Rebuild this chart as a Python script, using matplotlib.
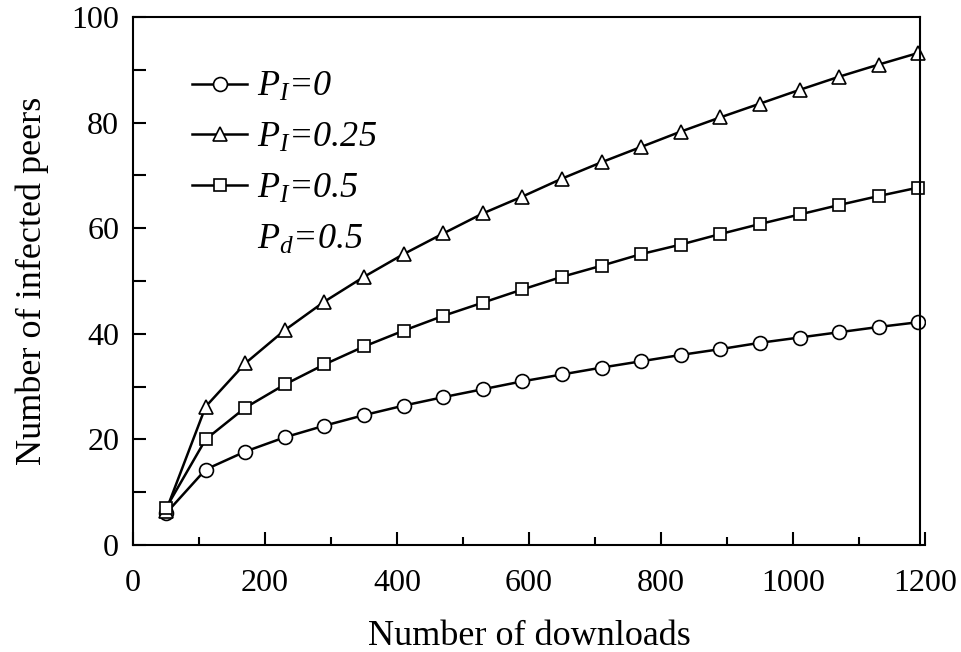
import matplotlib
matplotlib.use("Agg")
from matplotlib import pyplot as plt
from matplotlib.lines import Line2D
from matplotlib.ticker import MultipleLocator

plt.rcParams['font.family'] = ['Liberation Serif', 'DejaVu Serif']
plt.rcParams['mathtext.fontset'] = 'custom'
plt.rcParams['mathtext.it'] = 'Liberation Serif:italic'
plt.rcParams['mathtext.rm'] = 'Liberation Serif'

# datos
descargas = [50, 110, 170, 230, 290, 350, 410, 470, 530, 590,
             650, 710, 770, 830, 890, 950, 1010, 1070, 1130, 1190]
pi_0 = [6.0, 14.3, 17.7, 20.4, 22.6, 24.6, 26.4, 28.0, 29.5, 31.0,
        32.3, 33.6, 34.8, 36.0, 37.1, 38.3, 39.3, 40.3, 41.3, 42.2]
pi_025 = [6.5, 26.2, 34.4, 40.7, 46.1, 50.8, 55.1, 59.0, 62.8, 66.0,
          69.4, 72.5, 75.4, 78.3, 81.0, 83.6, 86.2, 88.7, 91.0, 93.2]
pi_05 = [7.0, 20.0, 26.0, 30.4, 34.2, 37.6, 40.6, 43.4, 45.9, 48.4,
         50.8, 52.9, 55.1, 56.9, 58.9, 60.8, 62.6, 64.4, 66.1, 67.7]

etiquetas = [r'$P_I$=0', r'$P_I$=0.25', r'$P_I$=0.5']
extra = r'$P_d$=0.5'

fig = plt.figure(figsize=(9.62, 6.52), dpi=100)
ax = fig.add_axes([0.1383, 0.1641, 0.8232, 0.8098])

estilo = dict(color='black', lw=1.8, mfc='white', mec='black', mew=1.2)
ax.plot(descargas, pi_0, marker='o', ms=10, label=etiquetas[0], **estilo)
ax.plot(descargas, pi_025, marker='^', ms=10.5, label=etiquetas[1], **estilo)
ax.plot(descargas, pi_05, marker='s', ms=9, label=etiquetas[2], **estilo)

ax.set_xlim(0, 1200)
ax.set_ylim(0, 100)
ax.xaxis.set_major_locator(MultipleLocator(200))
ax.xaxis.set_minor_locator(MultipleLocator(100))
ax.yaxis.set_major_locator(MultipleLocator(20))
ax.yaxis.set_minor_locator(MultipleLocator(10))
ax.tick_params(which='both', direction='in', top=False, right=False, width=1.5, labelsize=23)
ax.tick_params(axis='x', which='major', length=9.5, pad=17)
ax.tick_params(axis='x', which='minor', length=6)
ax.tick_params(axis='y', which='both', length=9, pad=10)

# el marco derecho no llega a 1200 en la original
for s in ax.spines.values():
    s.set_linewidth(1.5)
ax.spines['right'].set_position(('data', 1192))
ax.spines['top'].set_bounds(0, 1192)

ax.set_xlabel('Number of downloads', fontsize=26, labelpad=16)
ax.set_ylabel('Number of infected peers', fontsize=26, labelpad=16)

handles, labels = ax.get_legend_handles_labels()
handles.append(Line2D([], [], linestyle='none'))
labels.append(extra)
ax.legend(handles, labels, loc='upper left', bbox_to_anchor=(0.075, 0.898),
          frameon=False, prop={'size': 26, 'style': 'italic'}, handlelength=1.5,
          handletextpad=0.3, labelspacing=0.49, borderpad=0, borderaxespad=0)

plt.savefig('out.png', dpi=100)
